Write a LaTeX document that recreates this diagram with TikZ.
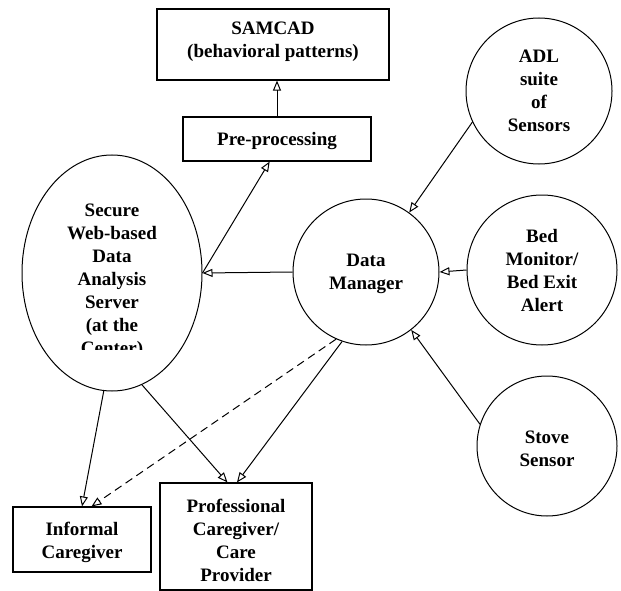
\documentclass[tikz,border=0pt]{standalone}
\usepackage{fontspec}
\setmainfont{Liberation Serif}
\usetikzlibrary{arrows.meta,shapes.geometric}
\begin{document}
\begin{tikzpicture}[x=1pt,y=-1pt,
  txt/.style={font=\bfseries\fontsize{19}{23}\selectfont, align=center, inner sep=0pt},
  boxnode/.style={draw, line width=1.1pt, rectangle, inner sep=0pt},
  circnode/.style={draw, line width=1pt, circle, inner sep=0pt, txt},
  arr/.style={line width=1pt, -{Triangle[open,length=10pt,width=8pt]}},
  dasharr/.style={arr, dash pattern=on 8pt off 5pt},
]
\useasboundingbox[fill=white] (0,0) rectangle (621,591);
% boxes
\node[boxnode, minimum width=232pt, minimum height=71pt] (samcad) at (273,44.5) {};
\node[txt] (samcadtxt) at (273,42) {SAMCAD\\(behavioral patterns)};
\node[boxnode, minimum width=188pt, minimum height=44pt] (pre) at (277,139) {};
\node[txt] (pretxt) at (277,141) {Pre-processing};
\node[boxnode, minimum width=138pt, minimum height=65pt] (informal) at (82,539.5) {};
\node[txt] (informaltxt) at (82,542) {Informal\\Caregiver};
\node[boxnode, minimum width=152pt, minimum height=107pt] (prof) at (236,536.5) {};
\node[txt] (proftxt) at (236,540) {Professional\\Caregiver/\\Care\\Provider};
% ellipse
\node[draw, line width=1pt, ellipse, minimum width=180pt, minimum height=236pt, inner sep=0pt] (secure) at (112,273) {};
\begin{scope}
  \clip (20,150) rectangle (205,349.5);
  \node[txt] (securetext) at (112,281) {Secure\\Web-based\\Data\\Analysis\\Server\\(at the\\Center)};
\end{scope}
% circles
\node[circnode, minimum size=146pt] (dm) at (366,272) {};
\node[txt] (dmtxt) at (366,274) {Data\\Manager};
\node[circnode, minimum size=146pt] (adl) at (539,91) {ADL\\suite\\of\\Sensors};
\node[circnode, minimum size=150pt] (bed) at (542,270) {Bed\\Monitor/\\Bed Exit\\Alert};
\node[circnode, minimum size=140pt] (stove) at (547,446) {};
\node[txt] (stovetxt) at (547,449) {Stove\\Sensor};
% connectors
\draw[arr] (pre.north) -- (pre.north |- samcad.south);
\draw[arr] (secure.east) -- (pre.252);
\draw[arr] (dm.west) -- (secure.east);
\draw[arr] (adl.205) -- (dm.54);
\draw[arr] (bed.west) -- (dm.east);
\draw[arr] (stove.162) -- (dm.308);
\draw[arr] (secure.266) -- (informal.north);
\draw[arr] (secure.285) -- (prof.99);
\draw[arr] (dm.251) -- (prof.89);
\draw[dasharr] (dm.246) -- (informal.74);
\end{tikzpicture}
\end{document}
